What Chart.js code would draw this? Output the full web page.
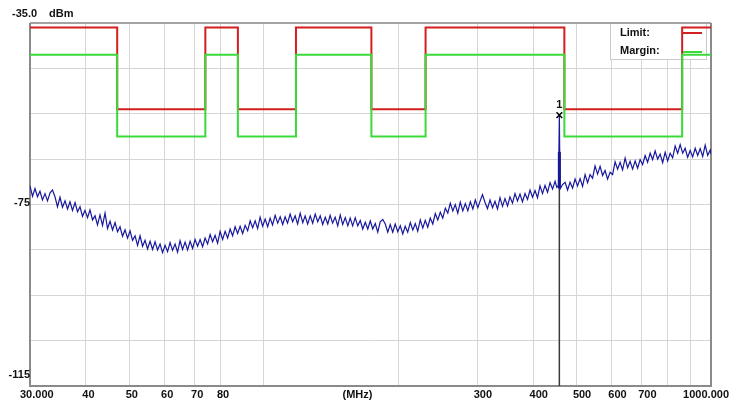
<!DOCTYPE html>
<html>
<head>
<meta charset="utf-8">
<script src="https://cdn.jsdelivr.net/npm/chart.js@4/dist/chart.umd.min.js"></script>
<style>
  html, body { margin: 0; padding: 0; background: #ffffff; }
  #wrap { width: 742px; height: 416px; }
</style>
</head>
<body>
<div id="wrap"><canvas id="c" width="742" height="416"></canvas></div>
<script>
// ---- data ----
const freqsMHz = [
  30.0, 30.39, 30.78, 31.18, 31.58, 31.99, 32.41, 32.83, 33.25, 33.68,
  34.12, 34.56, 35.01, 35.46, 35.93, 36.40, 36.86, 37.34, 37.83, 38.32,
  38.81, 39.31, 39.82, 40.34, 40.86, 41.39, 41.93, 42.47, 43.02, 43.58,
  44.15, 44.72, 45.30, 45.89, 46.48, 47.08, 47.69, 48.31, 48.94, 49.57,
  50.22, 50.87, 51.53, 52.20, 52.87, 53.56, 54.25, 54.95, 55.67, 56.39,
  57.12, 57.86, 58.61, 59.37, 60.14, 60.92, 61.71, 62.51, 63.32, 64.14,
  64.97, 65.81, 66.67, 67.53, 68.41, 69.30, 70.19, 71.10, 72.03, 72.96,
  73.91, 74.87, 75.84, 76.82, 77.81, 78.82, 79.85, 80.88, 81.93, 82.99,
  84.07, 85.16, 86.26, 87.38, 88.52, 89.67, 90.83, 92.01, 93.20, 94.41,
  95.63, 96.87, 98.12, 99.39, 100.7, 102.0, 103.3, 104.6, 106.0, 107.4,
  108.8, 110.2, 111.6, 113.0, 114.5, 116.0, 117.5, 119.0, 120.6, 122.2,
  123.7, 125.3, 127.0, 128.6, 130.3, 132.0, 133.7, 135.4, 137.2, 139.0,
  140.7, 142.5, 144.4, 146.3, 148.2, 150.1, 152.1, 154.1, 156.0, 158.0,
  160.1, 162.2, 164.3, 166.4, 168.6, 170.8, 173.0, 175.2, 177.5, 179.8,
  182.1, 184.5, 186.9, 189.3, 191.7, 194.2, 196.7, 199.3, 201.9, 204.5,
  207.1, 209.8, 212.6, 215.4, 218.1, 220.9, 223.8, 226.7, 229.6, 232.6,
  235.6, 238.7, 241.8, 244.9, 248.1, 251.3, 254.6, 257.9, 261.2, 264.6,
  268.0, 271.5, 275.0, 278.6, 282.2, 285.9, 289.6, 293.4, 297.1, 301.0,
  304.4, 308.3, 312.3, 316.3, 320.5, 324.7, 328.8, 333.1, 337.4, 341.8,
  346.2, 350.7, 355.2, 359.8, 364.5, 369.2, 374.0, 378.8, 383.8, 388.8,
  393.8, 398.9, 404.1, 409.3, 414.6, 420.0, 425.5, 431.0, 436.6, 442.3,
  448.0, 452.0, 456.0, 458.0, 459.7, 465.7, 471.7, 477.8, 484.0, 490.3,
  496.6, 503.0, 509.6, 516.2, 522.9, 529.7, 536.5, 543.5, 550.5, 557.6,
  564.9, 572.2, 579.6, 587.1, 594.8, 602.5, 610.3, 618.2, 626.2, 634.3,
  642.6, 650.9, 659.3, 667.8, 676.6, 685.4, 694.2, 703.2, 712.3, 721.5,
  731.0, 740.5, 750.0, 759.7, 769.6, 779.6, 789.7, 799.9, 810.3, 820.8,
  831.5, 842.3, 853.2, 864.3, 875.4, 886.7, 898.3, 909.9, 921.8, 933.7,
  945.8, 958.1, 970.5, 983.1, 995.8, 1000.0
];
const levelDbm = [
  -70.9, -73.2, -71.5, -73.3, -72.1, -74.0, -72.6, -74.2, -72.5, -71.8,
  -73.3, -75.5, -73.4, -75.6, -74.2, -76.0, -74.4, -76.3, -74.6, -76.6,
  -75.5, -77.6, -76.3, -77.9, -76.2, -78.4, -77.5, -79.5, -77.3, -79.6,
  -76.9, -80.3, -78.7, -80.6, -79.0, -81.0, -79.9, -82.0, -80.6, -82.4,
  -80.8, -82.9, -81.9, -84.0, -81.9, -84.2, -82.9, -84.8, -83.1, -84.9,
  -83.2, -85.0, -83.7, -85.6, -84.0, -85.4, -83.4, -85.1, -83.7, -85.5,
  -83.0, -84.9, -83.3, -85.0, -83.1, -84.7, -82.7, -84.2, -82.7, -84.3,
  -82.4, -83.7, -81.6, -83.2, -81.8, -83.5, -80.9, -82.7, -80.9, -82.4,
  -80.4, -81.9, -79.9, -81.4, -79.8, -81.4, -79.6, -80.8, -78.6, -80.1,
  -78.6, -80.3, -77.8, -79.8, -78.2, -79.9, -78.0, -79.5, -77.4, -79.1,
  -77.7, -79.4, -77.7, -79.1, -77.1, -78.8, -77.5, -79.3, -76.9, -79.0,
  -77.5, -79.3, -77.5, -79.1, -77.1, -78.8, -77.5, -79.4, -77.8, -79.3,
  -77.4, -79.1, -77.8, -79.7, -77.3, -79.4, -77.9, -79.7, -78.0, -79.7,
  -77.9, -79.7, -78.5, -80.4, -78.9, -80.4, -78.6, -80.4, -79.2, -81.1,
  -78.8, -78.3, -79.3, -81.1, -79.4, -81.1, -79.3, -81.0, -79.7, -81.5,
  -79.8, -81.1, -79.0, -80.6, -79.2, -80.9, -78.4, -80.2, -78.5, -80.0,
  -78.0, -79.3, -77.0, -78.4, -76.7, -78.0, -75.8, -76.9, -74.7, -76.4,
  -75.0, -76.9, -74.5, -76.4, -74.8, -76.4, -74.4, -76.0, -74.0, -75.7,
  -74.3, -72.8, -74.5, -75.9, -74.0, -75.7, -74.3, -76.0, -73.5, -75.4,
  -73.7, -75.3, -73.3, -74.7, -72.6, -74.2, -72.7, -74.4, -72.6, -73.9,
  -71.8, -73.4, -71.9, -73.5, -70.9, -72.6, -70.8, -72.3, -70.2, -71.6,
  -69.9, -71.2, -70.8, -55.3, -71.6, -70.6, -70.1, -71.8, -70.1, -71.4,
  -69.4, -70.9, -69.3, -71.0, -68.4, -70.2, -68.4, -69.2, -66.5, -68.3,
  -66.6, -68.6, -67.5, -69.4, -67.9, -68.4, -65.6, -67.2, -65.7, -67.4,
  -64.8, -66.9, -65.5, -67.2, -65.4, -67.0, -65.1, -66.2, -64.2, -65.7,
  -63.7, -65.1, -63.2, -65.0, -63.9, -65.8, -63.5, -65.4, -63.7, -64.7,
  -62.1, -63.7, -61.8, -63.7, -62.6, -64.6, -63.1, -64.5, -62.6, -64.2,
  -62.7, -64.4, -61.9, -64.2, -63.0, -63.9
];
// limit / margin breakpoints (value holds from that frequency on)
const limitFreqs  = [30, 47, 74, 87.5, 118, 174, 230, 470, 862, 1000];
const limitDbm    = [-36, -54, -36, -54, -36, -54, -36, -54, -36, -36];
const marginDbm   = [-42, -60, -42, -60, -42, -60, -42, -60, -42, -42];
// marker 1
const markerFreq = 458;
const markerDbm = -55.3;
const markerLineTop = -63.4;
const markerTraceLevel = -71.5;
// axes
const yMin = -115, yMax = -35, yStep = 10;
const xMin = 30, xMax = 1000;
const xGridFreqs = [40, 50, 60, 70, 80, 100, 200, 300, 400, 500, 600, 700, 800, 900];
const xTickFreqs  = [30, 40, 50, 60, 70, 80, 300, 400, 500, 600, 700, 1000];
const xTickLabels = ['30.000', '40', '50', '60', '70', '80', '300', '400', '500', '600', '700', '1000.000'];
const yTickValues = [-75, -115];
const yTickLabels = ['-75', '-115'];
const unitLabel = '(MHz)';
const unitFreq = 162;
const topLabel = '-35.0';
const yUnit = 'dBm';
const legendNames = ['Limit:', 'Margin:'];

// ---- build datasets ----
const tracePts = freqsMHz.map((f, i) => ({ x: f, y: levelDbm[i] }));
const limitPts = limitFreqs.map((f, i) => ({ x: f, y: limitDbm[i] }));
const marginPts = limitFreqs.map((f, i) => ({ x: f, y: marginDbm[i] }));

const RED = '#d21f1f', GREEN = '#3ada3a', NAVY = '#18189e';
const FONT = "bold 11px 'Liberation Sans', Arial, sans-serif";

const decor = {
  id: 'decor',
  beforeDatasetsDraw(chart) {
    const { ctx, chartArea: a } = chart;
    ctx.save();
    // legend box (under the data lines)
    ctx.fillStyle = '#ffffff';
    ctx.fillRect(611, a.top + 1, 95, 36);
    ctx.strokeStyle = '#c9c9c9';
    ctx.lineWidth = 1;
    ctx.strokeRect(610.5, a.top + 0.5, 96, 36);
    // frame
    ctx.strokeStyle = '#a3a3a3';
    ctx.lineWidth = 2;
    ctx.beginPath();
    ctx.moveTo(a.left, a.top); ctx.lineTo(a.right, a.top);
    ctx.stroke();
    ctx.strokeStyle = '#8a8a8a';
    ctx.beginPath();
    ctx.moveTo(a.left, a.top); ctx.lineTo(a.left, a.bottom);
    ctx.lineTo(a.right, a.bottom); ctx.lineTo(a.right, a.top);
    ctx.stroke();
    ctx.restore();
  },
  afterDraw(chart) {
    const { ctx, chartArea: a } = chart;
    const xs = chart.scales.x, ys = chart.scales.y;
    ctx.save();
    ctx.font = FONT;
    ctx.fillStyle = '#111111';
    ctx.textBaseline = 'middle';
    // x tick labels
    xTickFreqs.forEach((f, i) => {
      const px = xs.getPixelForValue(f);
      if (i === 0) { ctx.textAlign = 'left'; ctx.fillText(xTickLabels[i], px - 10, a.bottom + 9); }
      else if (i === xTickFreqs.length - 1) { ctx.textAlign = 'right'; ctx.fillText(xTickLabels[i], px + 18, a.bottom + 9); }
      else { ctx.textAlign = 'left'; ctx.fillText(xTickLabels[i], px - 3.5, a.bottom + 9); }
    });
    ctx.textAlign = 'center';
    ctx.fillText(unitLabel, xs.getPixelForValue(unitFreq), a.bottom + 9);
    // y tick labels
    ctx.textAlign = 'right';
    yTickValues.forEach((v, i) => {
      let py = ys.getPixelForValue(v) - 2;
      if (v === yMin) py -= 9;
      ctx.fillText(yTickLabels[i], a.left, py);
    });
    ctx.textAlign = 'left';
    ctx.fillText(topLabel, 12, 14);
    ctx.fillText(yUnit, 49, 14);
    // legend texts + samples
    ctx.fillText(legendNames[0], 620, 33);
    ctx.fillText(legendNames[1], 620, 51);
    ctx.lineWidth = 2;
    ctx.strokeStyle = RED;
    ctx.beginPath(); ctx.moveTo(683, 33); ctx.lineTo(702, 33); ctx.stroke();
    ctx.strokeStyle = GREEN;
    ctx.beginPath(); ctx.moveTo(683, 52); ctx.lineTo(702, 52); ctx.stroke();
    // marker number
    ctx.fillStyle = '#111111';
    ctx.textAlign = 'center';
    ctx.fillText('1', xs.getPixelForValue(markerFreq), ys.getPixelForValue(markerDbm) - 10);
    ctx.restore();
  }
};

new Chart(document.getElementById('c'), {
  type: 'line',
  data: {
    datasets: [
      { label: 'Marker', data: [{ x: markerFreq, y: markerDbm }], showLine: false,
        pointStyle: 'crossRot', pointRadius: 4, pointBorderColor: '#000', pointBorderWidth: 1.5, order: 0 },
      { label: 'MarkerLine', data: [{ x: markerFreq, y: yMin }, { x: markerFreq, y: markerTraceLevel }],
        borderColor: '#3a3a3a', borderWidth: 1.5, pointRadius: 0, order: 3 },
      { label: 'MarkerLineUpper', data: [{ x: markerFreq, y: markerTraceLevel }, { x: markerFreq, y: markerLineTop }],
        borderColor: '#10106a', borderWidth: 3, pointRadius: 0, order: 2 },
      { label: 'Trace', data: tracePts, borderColor: NAVY, borderWidth: 1.2, pointRadius: 0, order: 1 },
      { label: 'Limit', data: limitPts, stepped: 'before', borderColor: RED, borderWidth: 2, pointRadius: 0, order: 5 },
      { label: 'Margin', data: marginPts, stepped: 'before', borderColor: GREEN, borderWidth: 2, pointRadius: 0, order: 4 }
    ]
  },
  options: {
    responsive: false,
    animation: false,
    devicePixelRatio: 1,
    layout: { padding: { left: 30, top: 23, right: 31, bottom: 30 } },
    plugins: { legend: { display: false }, tooltip: { enabled: false } },
    scales: {
      x: {
        type: 'logarithmic', min: xMin, max: xMax,
        afterBuildTicks: (s) => { s.ticks = xGridFreqs.map(v => ({ value: v })); },
        ticks: { display: false },
        grid: { color: '#d6d6d6', lineWidth: 1, drawTicks: false },
        border: { display: false }
      },
      y: {
        min: yMin, max: yMax,
        ticks: { display: false, stepSize: yStep },
        grid: { color: '#d6d6d6', lineWidth: 1, drawTicks: false },
        border: { display: false }
      }
    }
  },
  plugins: [decor]
});
</script>
</body>
</html>
